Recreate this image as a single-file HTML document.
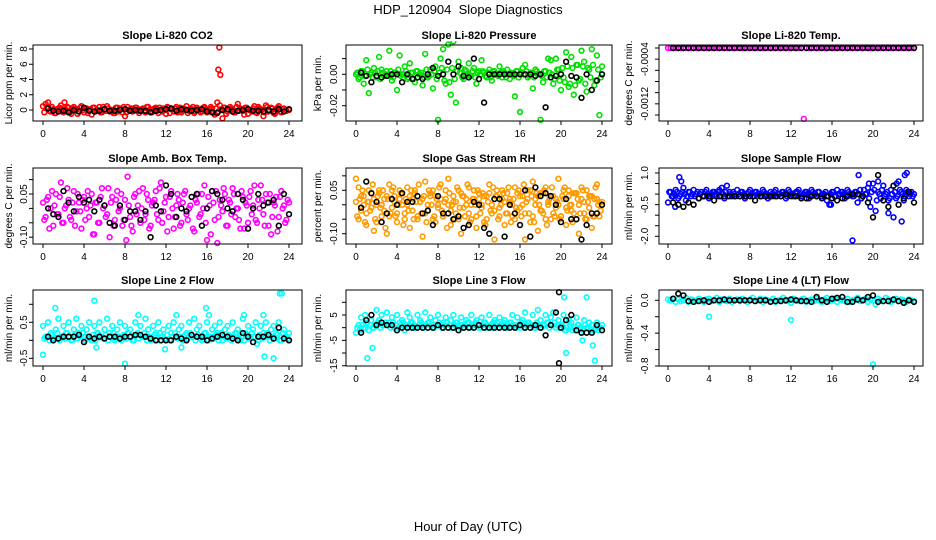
<!DOCTYPE html>
<html><head><meta charset="utf-8"><title>HDP_120904 Slope Diagnostics</title>
<style>
html,body{margin:0;padding:0;background:#fff;}
svg{display:block;font-family:"Liberation Sans",sans-serif;}
</style></head>
<body>
<svg id="chart" width="936" height="540" viewBox="0 0 936 540" xmlns="http://www.w3.org/2000/svg">
<rect width="936" height="540" fill="#fff"/>
<text x="468" y="14" font-size="13" text-anchor="middle">HDP_120904&#160; Slope Diagnostics</text>
<text x="468" y="531" font-size="13" text-anchor="middle">Hour of Day (UTC)</text>
</svg>
<script>
// ---- shared time grids (hours) ----
const hoursA = [0,0.25,0.5,0.75,1,1.25,1.5,1.75,2,2.25,2.5,2.75,3,3.25,3.5,3.75,4,4.25,4.5,4.75,5,5.25,5.5,5.75,6,6.25,6.5,6.75,7,7.25,7.5,7.75,8,8.25,8.5,8.75,9,9.25,9.5,9.75,10,10.25,10.5,10.75,11,11.25,11.5,11.75,12,12.25,12.5,12.75,13,13.25,13.5,13.75,14,14.25,14.5,14.75,15,15.25,15.5,15.75,16,16.25,16.5,16.75,17,17.25,17.5,17.75,18,18.25,18.5,18.75,19,19.25,19.5,19.75,20,20.25,20.5,20.75,21,21.25,21.5,21.75,22,22.25,22.5,22.75,23,23.25,23.5,23.75,24];
const hoursC = [0.125,0.375,0.625,0.875,1.125,1.375,1.625,1.875,2.125,2.375,2.625,2.875,3.125,3.375,3.625,3.875,4.125,4.375,4.625,4.875,5.125,5.375,5.625,5.875,6.125,6.375,6.625,6.875,7.125,7.375,7.625,7.875,8.125,8.375,8.625,8.875,9.125,9.375,9.625,9.875,10.125,10.375,10.625,10.875,11.125,11.375,11.625,11.875,12.125,12.375,12.625,12.875,13.125,13.375,13.625,13.875,14.125,14.375,14.625,14.875,15.125,15.375,15.625,15.875,16.125,16.375,16.625,16.875,17.125,17.375,17.625,17.875,18.125,18.375,18.625,18.875,19.125,19.375,19.625,19.875,20.125,20.375,20.625,20.875,21.125,21.375,21.625,21.875,22.125,22.375,22.625,22.875,23.125,23.375,23.625,23.875];
const hoursB = [0.5,1,1.5,2,2.5,3,3.5,4,4.5,5,5.5,6,6.5,7,7.5,8,8.5,9,9.5,10,10.5,11,11.5,12,12.5,13,13.5,14,14.5,15,15.5,16,16.5,17,17.5,18,18.5,19,19.5,20,20.5,21,21.5,22,22.5,23,23.5,24];
const xTicks = [0,4,8,12,16,20,24];

// ---- Panel 1: CO2 ----
const co2Color = [0.5,0.8,0.3,-0.2,0.1,-0.4,0.2,0.6,-0.3,0.0,0.3,-0.5,0.4,0.1,-0.2,0.5,-0.3,0.2,0.0,-0.6,0.3,-0.1,0.4,-0.3,0.1,0.5,-0.2,0.0,-0.4,0.3,0.2,-0.3,-0.8,0.4,0.1,-0.2,0.3,-0.1,0.0,0.2,-0.3,0.4,-0.2,0.1,0.3,-0.4,0.0,0.2,-0.5,0.3,0.1,-0.2,0.4,0.0,-0.3,0.2,0.5,-0.1,0.1,-0.4,0.3,0.0,-0.2,0.4,-0.3,0.1,0.2,-0.6,1.0,0.6,-1.1,0.3,-0.2,0.4,0.1,-0.3,0.8,0.2,-0.1,0.3,-0.5,0.0,0.2,-0.3,0.4,0.1,-0.8,0.6,-0.2,0.3,-0.4,0.1,0.5,-0.3,0.2,-0.1,0.0];
const co2Band = [-0.3,0.2,-0.1,0.4,-0.4,0.1,0.3,-0.2,0.0,0.4,-0.3,0.2,-0.1,-0.5,0.3,0.0,0.2,-0.4,0.1,0.3,-0.2,0.0,-0.3,0.4,-0.1,0.2,0.0,-0.4,0.3,-0.2,0.1,0.4,-0.3,0.0,0.2,-0.1,0.3,-0.4,0.1,-0.2,0.4,0.0,-0.3,0.2,-0.1,0.3,-0.2,0.0,0.4,-0.4,0.1,0.2,-0.3,0.3,-0.1,0.0,-0.4,0.2,0.4,-0.2,0.1,-0.3,0.3,0.0,-0.1,0.4,-0.4,0.2,-0.2,0.1,0.3,-0.5,0.0,0.2,-0.3,0.4,-0.1,0.1,-0.6,0.3,0.0,-0.2,0.5,-0.4,0.2,0.0,-0.3,0.4,-0.1,0.2,-0.5,0.3,-0.2,0.1];
const co2OutX = [17.2,17.1,17.3,2.1,0.5];
const co2OutY = [8.2,5.3,4.6,1.0,1.0];
const co2Black = [0.2,-0.1,-0.2,-0.1,-0.3,0.0,-0.2,0.3,-0.1,-0.2,-0.1,0.1,-0.1,-0.1,0.0,0.1,-0.1,0.0,-0.1,-0.1,-0.3,-0.1,0.0,0.1,0.2,-0.1,0.1,0.0,-0.1,0.0,0.1,-0.2,-0.3,-0.4,0.0,0.1,-0.2,-0.1,0.0,0.1,-0.1,-0.1,-0.2,0.0,-0.2,0.1,-0.2,0.1];
const co2Ticks = [0,2,4,6,8];

// ---- Panel 2: Pressure ----
const presColor = [0.000,-0.003,0.002,-0.006,0.009,-0.012,0.001,0.004,-0.002,0.011,0.003,-0.001,0.002,0.015,-0.004,0.001,-0.010,0.012,0.000,0.005,-0.003,0.007,0.001,-0.005,0.002,0.000,-0.007,0.013,-0.002,0.003,-0.009,0.005,-0.029,0.010,0.016,-0.006,0.019,-0.013,0.021,-0.018,0.008,0.004,-0.003,0.002,0.007,-0.001,0.004,-0.006,0.002,0.009,0.001,-0.002,0.003,-0.004,0.002,0.000,0.005,-0.002,0.001,0.003,-0.003,0.000,-0.014,0.002,-0.024,0.004,0.006,-0.002,0.001,-0.009,0.003,0.000,-0.029,-0.005,0.002,0.010,0.009,-0.006,0.010,0.003,-0.010,-0.002,0.014,-0.008,0.011,-0.013,0.006,-0.004,0.015,0.008,-0.011,0.003,0.016,-0.007,0.012,-0.026,0.005];
const presBand = [0.001,-0.002,0.002,-0.001,0.003,0.000,-0.002,0.001,0.002,-0.003,0.001,0.000,-0.001,0.002,-0.002,0.001,0.003,-0.001,0.000,0.002,-0.002,0.001,-0.003,0.002,0.000,0.001,-0.002,0.003,-0.001,0.000,0.002,-0.003,0.001,0.004,-0.004,0.003,-0.005,0.004,-0.003,0.002,0.001,-0.002,0.003,0.000,-0.001,0.002,-0.002,0.001,0.000,0.002,-0.001,0.001,-0.002,0.002,0.000,-0.001,0.001,0.002,-0.002,0.000,0.001,-0.001,0.002,-0.002,0.001,0.000,0.002,-0.001,0.001,-0.002,0.002,0.000,-0.001,0.002,-0.002,0.001,0.000,-0.003,0.003,-0.004,0.004,-0.005,0.005,-0.006,0.004,-0.007,0.006,-0.003,0.005,-0.006,0.004,-0.002,0.006,-0.004,0.003,-0.002,0.001];
const presBlack = [0.001,-0.001,-0.005,-0.001,-0.002,-0.001,0.000,0.000,-0.005,0.000,-0.003,-0.002,-0.003,0.000,0.004,-0.001,0.000,0.008,0.000,0.005,-0.001,-0.002,0.010,-0.003,-0.018,0.000,0.000,0.000,0.000,0.000,0.000,0.000,0.000,0.000,-0.001,0.000,-0.021,-0.002,-0.001,0.000,0.008,-0.001,-0.002,-0.015,0.000,-0.010,-0.004,0.000];
const presTicks = [-0.02,-0.01,0.00,0.01];

// ---- Panel 3: Temp ----
const tempColor = [-0.0002,-0.0002,-0.0002,-0.0002,-0.0002,-0.0002,-0.0002,-0.0002,-0.0002,-0.0002,-0.0002,-0.0002,-0.0002,-0.0002,-0.0002,-0.0002,-0.0002,-0.0002,-0.0002,-0.0002,-0.0002,-0.0002,-0.0002,-0.0002,-0.0002,-0.0002,-0.0002,-0.0002,-0.0002,-0.0002,-0.0002,-0.0002,-0.0002,-0.0002,-0.0002,-0.0002,-0.0002,-0.0002,-0.0002,-0.0002,-0.0002,-0.0002,-0.0002,-0.0002,-0.0002,-0.0002,-0.0002,-0.0002,-0.0002,-0.0002,-0.0002,-0.0002,-0.0002,-0.00147,-0.0002,-0.0002,-0.0002,-0.0002,-0.0002,-0.0002,-0.0002,-0.0002,-0.0002,-0.0002,-0.0002,-0.0002,-0.0002,-0.0002,-0.0002,-0.0002,-0.0002,-0.0002,-0.0002,-0.0002,-0.0002,-0.0002,-0.0002,-0.0002,-0.0002,-0.0002,-0.0002,-0.0002,-0.0002,-0.0002,-0.0002,-0.0002,-0.0002,-0.0002,-0.0002,-0.0002,-0.0002,-0.0002,-0.0002,-0.0002,-0.0002,-0.0002,-0.0002];
const tempBlack = [-0.0002,-0.0002,-0.0002,-0.0002,-0.0002,-0.0002,-0.0002,-0.0002,-0.0002,-0.0002,-0.0002,-0.0002,-0.0002,-0.0002,-0.0002,-0.0002,-0.0002,-0.0002,-0.0002,-0.0002,-0.0002,-0.0002,-0.0002,-0.0002,-0.0002,-0.0002,-0.0002,-0.0002,-0.0002,-0.0002,-0.0002,-0.0002,-0.0002,-0.0002,-0.0002,-0.0002,-0.0002,-0.0002,-0.0002,-0.0002,-0.0002,-0.0002,-0.0002,-0.0002,-0.0002,-0.0002,-0.0002,-0.0002];
const tempTicks = [-0.0002,-0.0004,-0.0006,-0.0008,-0.0010,-0.0012,-0.0014];
const tempTickLabels = ["","-0.0004","","","","-0.0012",""];

// ---- Panel 4: Amb Box Temp ----
const ambColorA = [0.02,-0.03,0.04,0.00,-0.06,0.05,-0.02,0.09,-0.05,0.01,0.03,-0.04,0.06,-0.01,0.02,-0.07,0.04,0.00,-0.03,0.05,-0.09,0.02,-0.05,0.07,0.01,-0.02,-0.10,0.04,-0.04,0.06,0.00,-0.06,0.03,0.11,-0.03,-0.08,0.05,0.01,-0.05,0.07,-0.02,0.03,-0.06,0.02,0.06,-0.04,0.09,-0.01,0.04,-0.03,0.06,-0.07,0.01,0.03,-0.05,0.05,-0.02,0.00,0.04,-0.08,0.02,-0.03,0.05,0.08,-0.11,0.01,0.06,-0.04,-0.12,0.03,-0.01,0.05,-0.06,0.02,0.07,-0.03,0.00,-0.07,0.04,0.02,-0.05,0.06,0.01,-0.04,0.03,0.08,-0.02,0.05,-0.06,-0.09,0.02,0.04,-0.03,0.06,0.01,-0.04,0.02];
const ambColorB = [-0.04,0.03,-0.07,0.06,0.01,-0.02,0.04,-0.05,0.00,0.07,-0.03,0.02,-0.06,0.05,-0.01,0.03,-0.04,0.06,0.01,-0.09,0.02,-0.05,0.04,0.00,-0.03,0.07,0.02,-0.06,0.03,-0.01,0.05,-0.04,-0.11,0.01,-0.06,0.04,-0.02,0.06,0.00,-0.04,0.05,-0.07,0.01,0.03,-0.02,0.07,-0.05,0.02,-0.08,0.04,0.00,-0.03,0.05,-0.06,0.02,0.06,-0.04,0.01,-0.07,0.03,0.05,-0.02,0.00,-0.05,0.04,-0.09,0.02,0.06,-0.03,0.01,0.07,-0.06,0.03,-0.02,0.05,0.00,-0.04,0.06,-0.07,0.01,0.04,-0.02,0.08,-0.05,0.00,0.03,-0.06,0.02,0.05,-0.03,0.01,-0.08,0.04,0.00,-0.05,0.03,-0.02];
const ambBlack = [0.00,-0.02,-0.03,0.06,0.02,-0.01,0.04,0.02,0.03,-0.01,0.03,0.01,-0.05,-0.06,0.01,-0.04,-0.01,-0.01,-0.04,-0.01,-0.10,0.01,-0.01,0.08,0.05,-0.03,0.00,-0.01,0.04,0.05,-0.06,0.00,0.06,0.05,0.03,0.00,-0.01,0.05,0.03,-0.07,0.00,0.05,0.01,0.02,0.03,-0.06,0.05,-0.02];
const ambTicks = [-0.10,-0.05,0.00,0.05,0.10];
const ambTickLabels = ["-0.10","","","0.05",""];

// ---- Panel 5: Gas Stream RH ----
const rhColorA = [0.09,0.06,-0.02,0.03,-0.07,0.01,0.04,-0.09,0.00,0.05,-0.04,0.02,-0.10,0.07,-0.01,0.03,-0.06,0.05,0.00,-0.03,0.06,-0.08,0.02,0.04,-0.05,0.01,-0.11,0.08,-0.02,0.03,0.05,-0.06,0.00,0.07,-0.04,0.02,0.09,-0.07,0.01,-0.03,0.05,-0.10,0.03,0.00,0.06,-0.05,0.02,-0.08,0.04,0.00,-0.06,0.03,0.07,-0.03,-0.12,0.05,-0.01,0.02,-0.07,0.04,0.01,-0.04,0.06,-0.02,0.03,0.00,-0.12,0.05,-0.06,0.08,0.02,-0.09,0.04,-0.03,0.06,0.00,-0.05,0.03,-0.01,0.09,-0.04,0.02,-0.07,0.05,0.00,-0.03,0.04,-0.10,0.06,0.01,-0.05,0.03,-0.08,0.02,0.07,-0.04,0.01];
const rhColorB = [-0.04,0.02,0.05,-0.06,0.01,-0.02,0.07,-0.05,0.03,-0.01,0.05,-0.08,0.02,-0.03,0.06,-0.04,0.00,0.04,-0.07,0.02,-0.02,0.05,-0.05,0.01,0.07,-0.03,0.03,-0.06,0.05,0.00,-0.04,0.02,0.06,-0.02,0.01,-0.08,0.04,0.00,-0.05,0.06,-0.01,0.03,-0.04,0.07,-0.06,0.02,0.00,0.05,-0.03,0.04,-0.07,0.01,-0.02,0.06,0.03,-0.05,0.00,0.04,-0.03,0.06,-0.06,0.02,-0.01,0.05,-0.04,0.07,0.01,-0.03,0.03,-0.06,0.04,0.00,-0.02,0.05,-0.07,0.02,0.06,-0.04,0.01,-0.05,0.03,0.06,-0.02,0.00,-0.06,0.04,0.02,-0.03,0.05,-0.05,0.01,0.03,-0.04,0.06,0.00,-0.02,0.04];
const rhColorC = [0.01,-0.05,0.03,0.00,-0.03,0.05,-0.01,0.02,-0.06,0.04,0.00,-0.02,0.03,-0.04,0.05,0.01,-0.03,0.02,0.04,-0.05,0.00,0.03,-0.02,0.05,-0.04,0.01,0.02,-0.03,0.00,0.04,-0.05,0.03,-0.01,0.02,-0.04,0.05,0.00,-0.02,0.03,0.01,-0.05,0.04,-0.01,0.02,-0.03,0.00,0.05,-0.04,0.02,-0.01,0.03,-0.05,0.04,0.00,-0.02,0.03,-0.04,0.05,0.01,-0.03,0.02,0.00,-0.05,0.04,-0.01,0.03,-0.03,0.02,0.05,-0.04,0.00,0.03,-0.02,0.04,-0.05,0.01,0.03,-0.03,0.02,0.00,-0.04,0.05,-0.01,0.03,-0.02,0.04,-0.05,0.00,0.02,-0.03,0.05,-0.01,0.03,-0.04,0.02,0.01];
const rhBlack = [-0.01,0.08,0.04,0.01,-0.06,-0.03,0.02,0.00,0.04,0.01,0.01,0.03,-0.03,-0.02,-0.07,0.03,-0.03,-0.03,-0.05,-0.04,-0.08,-0.07,0.01,0.00,-0.08,-0.10,0.02,0.02,-0.11,0.00,-0.03,-0.07,0.05,-0.11,0.06,0.03,0.04,0.03,0.00,-0.06,0.02,-0.05,-0.05,-0.12,-0.07,-0.03,-0.03,0.00];
const rhTicks = [-0.10,-0.05,0.00,0.05,0.10];
const rhTickLabels = ["-0.10","","","0.05",""];

// ---- Panel 6: Sample Flow ----
const sfColor = [-0.4,0.1,-0.1,0.2,-0.2,0.0,0.3,-0.3,0.1,-0.1,0.2,0.0,-0.2,0.1,-0.1,0.2,-0.2,0.0,0.1,-0.1,0.2,0.3,-0.2,0.4,0.1,-0.1,0.0,0.2,-0.1,0.1,-0.2,0.0,0.2,-0.1,0.1,0.0,-0.1,0.2,0.0,-0.2,0.1,-0.1,0.2,0.0,-0.1,0.1,-0.2,0.2,0.0,-0.1,0.1,0.2,-0.1,0.0,0.1,-0.2,0.2,0.0,-0.1,0.1,-0.1,0.0,-0.3,-0.5,0.1,-0.1,0.2,0.0,0.1,-0.2,0.2,0.0,-0.1,0.1,-0.4,0.2,-0.1,0.0,0.3,-0.6,0.5,-0.8,0.1,-0.2,0.4,0.0,-0.3,0.2,-1.1,-0.2,0.6,0.1,-0.3,0.2,-0.1,0.1,0.0];
const sfBand = [0.1,-0.1,0.0,0.1,-0.1,0.1,0.0,-0.1,0.1,0.0,-0.1,0.1,0.0,-0.1,0.1,0.0,-0.1,0.1,0.0,0.1,-0.1,0.0,0.1,-0.1,0.0,0.1,-0.1,0.0,0.1,0.0,-0.1,0.1,0.0,-0.1,0.1,0.0,-0.1,0.1,0.0,-0.1,0.0,0.1,-0.1,0.0,0.1,0.0,-0.1,0.1,0.0,-0.1,0.1,0.0,-0.1,0.1,0.0,-0.1,0.1,0.0,0.1,-0.1,0.0,0.1,-0.1,0.0,0.1,-0.1,0.0,0.1,0.0,-0.1,0.1,0.0,-0.1,0.1,0.0,-0.2,0.2,0.0,-0.2,0.1,0.2,-0.3,0.0,0.2,-0.1,0.1,-0.2,0.0,0.1,-0.1,0.2,0.0,-0.1,0.1,0.0,-0.1,0.1];
const sfOutX = [1.1,1.3,18.0,18.6,19.6,20.5,22.3,22.8,23.1,23.3,15.9,0.7,21.5];
const sfOutY = [0.8,0.6,-2.2,0.9,0.5,0.6,0.5,-1.3,0.9,1.0,-0.5,-0.6,-0.9];
const sfBlack = [-0.4,-0.5,-0.6,-0.4,-0.5,-0.2,-0.1,-0.1,-0.3,-0.1,-0.1,-0.1,-0.1,-0.1,-0.1,-0.1,-0.3,-0.1,-0.1,-0.1,-0.1,-0.1,0.0,-0.1,-0.1,-0.2,-0.2,-0.1,-0.1,-0.2,-0.1,-0.2,-0.3,-0.2,-0.1,0.0,0.0,-0.1,-0.4,-1.1,0.9,-0.3,-0.6,0.4,-0.5,-0.2,0.1,-0.4];
const sfTicks = [1.0,0.5,0.0,-0.5,-1.0,-1.5,-2.0];
const sfTickLabels = ["1.0","","","-0.5","","","-2.0"];

// ---- Panel 7: Line 2 Flow ----
const l2Color = [0.4,0.1,0.5,0.2,0.0,0.3,0.6,0.1,0.4,0.2,0.5,0.0,0.3,0.6,0.2,0.4,0.1,0.3,0.5,0.0,0.4,0.2,0.5,0.1,0.3,0.6,0.2,0.4,0.0,0.3,0.5,0.1,0.4,0.2,0.3,0.0,0.5,0.2,0.4,0.1,0.6,0.3,0.0,0.4,0.2,0.5,0.1,0.3,0.0,0.4,0.2,0.5,0.1,0.3,0.4,0.0,0.2,0.5,0.1,0.6,0.3,0.4,0.0,0.2,0.5,0.1,0.3,0.4,0.2,0.5,0.0,0.3,0.4,0.1,0.5,0.2,0.3,0.0,0.6,0.2,0.4,0.1,0.3,0.5,0.0,0.4,0.2,0.5,0.1,0.3,0.4,0.2,0.5,0.0,0.3,0.1,0.2];
const l2Band = [0.05,0.1,0.0,0.15,0.05,0.2,0.0,0.1,0.05,0.2,0.1,0.0,0.15,0.05,0.1,0.2,0.0,0.1,0.05,0.15,0.0,0.2,0.1,0.05,0.15,0.0,0.1,0.2,0.05,0.1,0.0,0.15,0.05,0.2,0.1,0.0,0.15,0.05,0.1,0.2,0.0,0.1,0.05,0.15,0.0,0.2,0.1,0.05,0.15,0.0,0.1,0.2,0.05,0.1,0.0,0.15,0.05,0.2,0.1,0.0,0.15,0.05,0.1,0.2,0.0,0.1,0.05,0.15,0.0,0.2,0.1,0.05,0.15,0.0,0.1,0.2,0.05,0.1,0.0,0.15,0.05,0.2,0.1,-0.1,0.15,0.05,0.1,0.2,0.0,0.1,0.05,0.15,0.0,0.2,0.1,0.05,0.1];
const l2OutX = [0,1.2,5,5.2,8,9.3,11.9,13,13.5,15.9,16.2,19.6,21.5,21.6,22.5,23.3,23.1];
const l2OutY = [-0.4,0.9,1.1,-0.2,-0.65,0.7,-0.25,0.7,-0.2,0.9,0.7,0.7,0.7,-0.45,-0.5,1.3,1.3];
const l2Black = [0.1,0.0,0.05,0.1,0.1,0.1,0.15,-0.05,0.1,0.05,0.1,0.05,0.1,0.1,0.05,0.1,0.1,0.15,0.15,0.1,0.05,0.0,0.0,0.0,0.0,0.1,0.05,0.0,0.15,0.1,0.1,0.0,0.05,0.1,0.15,0.1,0.05,0.0,0.2,0.1,-0.05,0.1,0.1,0.15,0.05,0.35,0.05,0.0];
const l2Ticks = [-0.5,0.0,0.5,1.0];
const l2TickLabels = ["-0.5","","0.5",""];

// ---- Panel 8: Line 3 Flow ----
const l3Color = [-2,1,4,0,2,-1,3,0,7,3,5,1,6,2,4,0,5,2,3,-1,6,4,2,0,5,3,1,6,2,4,0,3,5,1,2,4,0,3,5,2,1,4,0,3,2,5,1,3,0,4,2,1,5,0,3,2,4,1,3,0,2,5,1,4,0,3,6,2,1,5,0,7,3,1,5,2,4,6,0,3,1,5,-1,3,2,0,4,1,-2,3,0,2,1,-1,2,0,1];
const l3Band = [0,-1,1,0,2,1,0,1,2,0,1,2,1,0,2,1,0,1,2,1,0,2,1,0,1,2,0,1,2,1,0,1,2,0,1,2,1,0,1,2,0,1,1,2,0,1,2,1,0,1,2,0,1,2,1,0,1,2,0,1,2,1,0,1,2,0,1,2,1,0,2,1,0,1,2,0,1,2,1,0,1,-1,0,1,-1,0,1,0,-1,1,0,-1,1,0,-1,0,1];
const l3OutX = [1.1,1.6,0.9,20.3,20.5,22.5,22.1,23.1,23.3];
const l3OutY = [-12,-8,5,12,-10,12,-5,-7,-13];
const l3Black = [-2,3,5,1,2,1,1,-1,0,0,0,0,0,0,0,1,0,0,0,-1,0,0,0,1,0,0,0,0,0,0,0,1,0,0,1,0,-3,1,6,0,3,5,-1,-2,-2,-2,1,-1];
const l3BlackOutX = [19.8,19.8];
const l3BlackOutY = [14,-14];
const l3Ticks = [10,5,0,-5,-10,-15];
const l3TickLabels = ["","5","","-5","","-15"];

// ---- Panel 9: Line 4 (LT) Flow ----
const l4Color = [0.01,0.0,0.02,-0.02,0.01,-0.01,0.0,0.03,-0.02,0.01,0.0,-0.01,0.02,0.0,-0.02,0.01,0.02,-0.01,0.0,0.03,-0.02,0.01,0.0,-0.01,0.02,-0.02,0.0,0.01,-0.01,0.02,0.0,-0.02,0.01,0.03,-0.01,0.0,0.02,-0.02,0.01,0.0,-0.01,0.02,-0.02,0.0,0.01,0.03,-0.01,0.0,-0.03,0.02,0.0,-0.01,0.01,0.02,-0.02,0.0,0.01,-0.01,0.02,0.0,-0.02,0.01,0.03,-0.01,0.0,0.02,-0.02,0.01,0.0,-0.01,0.02,-0.02,0.0,0.01,0.03,-0.01,0.0,0.02,-0.02,0.01,0.0,-0.05,0.02,0.0,-0.01,0.03,0.01,-0.02,0.0,0.02,-0.01,0.01,0.0,-0.02,0.01,0.0,-0.01];
const l4OutX = [4,12,20];
const l4OutY = [-0.2,-0.24,-0.78];
const l4Black = [0.02,0.08,0.06,-0.01,-0.02,-0.01,0.0,-0.02,0.0,0.0,0.01,0.0,0.0,0.0,0.0,0.0,-0.01,0.0,0.0,-0.02,-0.01,-0.01,0.0,0.01,0.0,-0.01,-0.01,-0.02,0.04,0.0,-0.02,0.02,0.03,0.04,-0.02,-0.02,0.01,0.0,0.04,0.06,-0.02,-0.01,-0.01,0.01,-0.01,-0.03,0.0,-0.02];
const l4Ticks = [0.0,-0.2,-0.4,-0.6,-0.8];
const l4TickLabels = ["0.0","","-0.4","","-0.8"];

const NS = "http://www.w3.org/2000/svg";
const svg = document.getElementById('chart');
function mk(tag, attrs, parent){
  const e = document.createElementNS(NS, tag);
  for (const k in attrs) e.setAttribute(k, attrs[k]);
  (parent||svg).appendChild(e);
  return e;
}

const cols = [{bx0:33,bx1:302,x0:43,x1:289,ylab:12,ytl:27},
              {bx0:346,bx1:612,x0:356,x1:602,ylab:321,ytl:337},
              {bx0:659,bx1:923,x0:668,x1:914,ylab:632,ytl:648}];
const rows = [{by0:45,by1:121},{by0:168,by1:244},{by0:290,by1:366}];

function panel(cfg){
  const c = cols[cfg.col], r = rows[cfg.row];
  const g = mk('g', {});
  
  
  const xs = h => c.x0 + (h/24)*(c.x1-c.x0);
  const ys = v => cfg.yp0 + (v - cfg.yv0)*(cfg.yp1-cfg.yp0)/(cfg.yv1-cfg.yv0);
  const ttl = mk('text', {x:(c.bx0+c.bx1)/2, y:r.by0-6, 'font-size':11, 'font-weight':'bold', 'text-anchor':'middle'}, g);
  
  
  ttl.textContent = cfg.title;
  const cx = mk('clipPath', {id:'clip-'+cfg.name}, g);
  mk('rect', {x:c.bx0, y:r.by0-4, width:c.bx1-c.bx0, height:r.by1-r.by0+8}, cx);
  const pts = mk('g', {'clip-path':'url(#clip-'+cfg.name+')'}, g);
  cfg.series.forEach(s => {
    const n = Math.min(s.x.length, s.y.length);
    for (let i=0;i<n;i++){
      const p = mk('circle', {cx:xs(s.x[i]).toFixed(1), cy:ys(s.y[i]).toFixed(1), r:2.4, fill:'none', stroke:s.color, 'stroke-width':1.6}, pts);
      
      
    }
  });
  const box = mk('rect', {x:c.bx0, y:r.by0, width:c.bx1-c.bx0, height:r.by1-r.by0, fill:'none', stroke:'#000', 'stroke-width':1}, g);
  
  
  const xa = mk('g', {}, g);
  
  
  mk('line', {x1:xs(xTicks[0]), x2:xs(xTicks[xTicks.length-1]), y1:r.by1, y2:r.by1, stroke:'#000'}, xa);
  xTicks.forEach(t => {
    mk('line', {x1:xs(t), x2:xs(t), y1:r.by1, y2:r.by1+4, stroke:'#000'}, xa);
    const tl = mk('text', {x:xs(t), y:r.by1+16, 'font-size':10, 'text-anchor':'middle'}, xa);
    
    
    tl.textContent = t;
  });
  const ya = mk('g', {}, g);
  
  
  const tv = cfg.ticks;
  mk('line', {x1:c.bx0, x2:c.bx0, y1:ys(tv[0]), y2:ys(tv[tv.length-1]), stroke:'#000'}, ya);
  tv.forEach((t,i) => {
    const y = ys(t);
    mk('line', {x1:c.bx0-4, x2:c.bx0, y1:y, y2:y, stroke:'#000'}, ya);
    const lab = cfg.tickLabels ? cfg.tickLabels[i] : String(t);
    if (lab){
      const tl = mk('text', {x:c.ytl, y:y, 'font-size':10, 'text-anchor':'middle', transform:'rotate(-90 '+c.ytl+' '+y+')'}, ya);
      
      
      tl.textContent = lab;
    }
  });
  const ym = (r.by0+r.by1)/2;
  const yl = mk('text', {x:c.ylab, y:ym, 'font-size':10, 'text-anchor':'middle', transform:'rotate(-90 '+c.ylab+' '+ym+')'}, g);
  
  
  yl.textContent = cfg.ylabel;
}

panel({name:'panel-co2', col:0,row:0,title:'Slope Li-820 CO2', ylabel:'Licor ppm per min.',
  yv0:0,yp0:110,yv1:8,yp1:49, ticks:co2Ticks,
  series:[{x:hoursA,y:co2Color,color:'#ff0000',label:'co2-point'},
          {x:hoursC,y:co2Band,color:'#ff0000',label:'co2-point'},
          {x:co2OutX,y:co2OutY,color:'#ff0000',label:'co2-outlier'},
          {x:hoursB,y:co2Black,color:'#000',label:'co2-hourly-point'}]});
panel({name:'panel-pressure', col:1,row:0,title:'Slope Li-820 Pressure', ylabel:'kPa per min.',
  yv0:0,yp0:74.3,yv1:-0.02,yp1:105.7, ticks:presTicks, tickLabels:["-0.02","","0.00",""],
  series:[{x:hoursA,y:presColor,color:'#00e000',label:'pressure-point'},
          {x:hoursC,y:presBand,color:'#00e000',label:'pressure-point'},
          {x:hoursB,y:presBlack,color:'#000',label:'pressure-hourly-point'}]});
panel({name:'panel-temp', col:2,row:0,title:'Slope Li-820 Temp.', ylabel:'degrees C per min.',
  yv0:-0.0002,yp0:48,yv1:-0.0014,yp1:115, ticks:tempTicks, tickLabels:tempTickLabels,
  series:[{x:hoursA,y:tempColor,color:'#ff00ff',label:'temp-point'},
          {x:hoursB,y:tempBlack,color:'#000',label:'temp-hourly-point'}]});
panel({name:'panel-amb-box-temp', col:0,row:1,title:'Slope Amb. Box Temp.', ylabel:'degrees C per min.',
  yv0:0,yp0:208.4,yv1:0.05,yp1:194, ticks:ambTicks, tickLabels:ambTickLabels,
  series:[{x:hoursA,y:ambColorA,color:'#ff00ff',label:'amb-temp-point'},
          {x:hoursC,y:ambColorB,color:'#ff00ff',label:'amb-temp-point'},
          {x:hoursB,y:ambBlack,color:'#000',label:'amb-temp-hourly-point'}]});
panel({name:'panel-gas-rh', col:1,row:1,title:'Slope Gas Stream RH', ylabel:'percent per min.',
  yv0:0.05,yp0:190.3,yv1:-0.10,yp1:233.7, ticks:rhTicks, tickLabels:rhTickLabels,
  series:[{x:hoursA,y:rhColorA,color:'#ff9a00',label:'rh-point'},
          {x:hoursC,y:rhColorB,color:'#ff9a00',label:'rh-point'},
          {x:hoursA,y:rhColorC,color:'#ff9a00',label:'rh-point'},
          {x:hoursB,y:rhBlack,color:'#000',label:'rh-hourly-point'}]});
panel({name:'panel-sample-flow', col:2,row:1,title:'Slope Sample Flow', ylabel:'ml/min per min.',
  yv0:1.0,yp0:173,yv1:-2.0,yp1:236.3, ticks:sfTicks, tickLabels:sfTickLabels,
  series:[{x:hoursA,y:sfColor,color:'#0000ff',label:'sample-flow-point'},
          {x:hoursC,y:sfBand,color:'#0000ff',label:'sample-flow-point'},
          {x:sfOutX,y:sfOutY,color:'#0000ff',label:'sample-flow-outlier'},
          {x:hoursB,y:sfBlack,color:'#000',label:'sample-flow-hourly-point'}]});
panel({name:'panel-line2-flow', col:0,row:2,title:'Slope Line 2 Flow', ylabel:'ml/min per min.',
  yv0:0.5,yp0:322.3,yv1:-0.5,yp1:358.3, ticks:l2Ticks, tickLabels:l2TickLabels,
  series:[{x:hoursA,y:l2Color,color:'#00ffff',label:'line2-point'},
          {x:hoursC,y:l2Band,color:'#00ffff',label:'line2-point'},
          {x:l2OutX,y:l2OutY,color:'#00ffff',label:'line2-outlier'},
          {x:hoursB,y:l2Black,color:'#000',label:'line2-hourly-point'}]});
panel({name:'panel-line3-flow', col:1,row:2,title:'Slope Line 3 Flow', ylabel:'ml/min per min.',
  yv0:5,yp0:315,yv1:-15,yp1:365.7, ticks:l3Ticks, tickLabels:l3TickLabels,
  series:[{x:hoursA,y:l3Color,color:'#00ffff',label:'line3-point'},
          {x:hoursC,y:l3Band,color:'#00ffff',label:'line3-point'},
          {x:l3OutX,y:l3OutY,color:'#00ffff',label:'line3-outlier'},
          {x:hoursB,y:l3Black,color:'#000',label:'line3-hourly-point'},
          {x:l3BlackOutX,y:l3BlackOutY,color:'#000',label:'line3-hourly-outlier'}]});
panel({name:'panel-line4-flow', col:2,row:2,title:'Slope Line 4 (LT) Flow', ylabel:'ml/min per min.',
  yv0:0.0,yp0:300.3,yv1:-0.8,yp1:366, ticks:l4Ticks, tickLabels:l4TickLabels,
  series:[{x:hoursA,y:l4Color,color:'#00ffff',label:'line4-point'},
          {x:l4OutX,y:l4OutY,color:'#00ffff',label:'line4-outlier'},
          {x:hoursB,y:l4Black,color:'#000',label:'line4-hourly-point'}]});
</script>
</body></html>
